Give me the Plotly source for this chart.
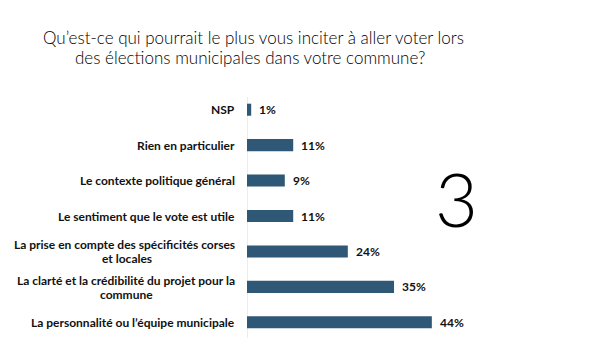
import plotly.graph_objects as go

categories = [
    "La personnalité ou l’équipe municipale",
    "La clarté et la crédibilité du projet pour la<br>commune",
    "La prise en compte des spécificités corses<br>et locales",
    "Le sentiment que le vote est utile",
    "Le contexte politique général",
    "Rien en particulier",
    "NSP",
]
values = [44, 35, 24, 11, 9, 11, 1]
value_labels = ["44%", "35%", "24%", "11%", "9%", "11%", "1%"]
title_lines = [
    "Qu’est-ce qui pourrait le plus vous inciter à aller voter lors",
    "des élections municipales dans votre commune?",
]
big_number = "3"

BAR_COLOR = "#2F5877"
FONT = "Lato, 'Open Sans', sans-serif"
LBL_FONT = dict(family=FONT, size=12, color="#111111", weight="bold")
SECOND_LINE_SHIFT = {"commune": -92, "et locales": -93}

fig = go.Figure()
fig.add_trace(go.Bar(
    x=values, y=categories, orientation="h",
    marker=dict(color=BAR_COLOR, line=dict(width=0)),
    width=0.34, hoverinfo="skip",
))

annotations = []
for cat, v, lab in zip(categories, values, value_labels):
    parts = cat.split("<br>")
    if len(parts) == 1:
        annotations.append(dict(
            x=0, y=cat, xref="x", yref="y", text=cat,
            xanchor="right", yanchor="middle", xshift=-10,
            showarrow=False, font=LBL_FONT,
        ))
    else:
        # first line right-aligned against the axis, second line centred beneath it
        annotations.append(dict(
            x=0, y=cat, xref="x", yref="y", text=parts[0],
            xanchor="right", yanchor="middle", xshift=-10, yshift=6.5,
            showarrow=False, font=LBL_FONT,
        ))
        annotations.append(dict(
            x=0, y=cat, xref="x", yref="y", text=parts[1],
            xanchor="right", yanchor="middle", xshift=SECOND_LINE_SHIFT[parts[1]],
            yshift=-7.5, showarrow=False, font=LBL_FONT,
        ))
    annotations.append(dict(
        x=v, y=cat, xref="x", yref="y", text=lab,
        xanchor="left", yanchor="middle", xshift=6,
        showarrow=False, font=LBL_FONT,
    ))

# positions in pixels of the 594x344 canvas, converted to paper coords
PL, PW, PT, PH = 247, 347, 92, 248
def px(xp):
    return (xp - PL) / PW
def py(yp):
    return (PT + PH - yp) / PH

for line, cx, cy in zip(title_lines, [253, 250], [37, 57]):
    annotations.append(dict(
        text=line, xref="paper", yref="paper", x=px(cx), y=py(cy),
        xanchor="center", yanchor="middle", showarrow=False,
        font=dict(family=FONT, size=17, color="#000000", weight=300),
    ))

annotations.append(dict(
    text=big_number, xref="paper", yref="paper", x=px(456), y=py(198),
    xanchor="center", yanchor="middle", showarrow=False,
    font=dict(family=FONT, size=74, color="#000000", weight=300),
))

fig.update_layout(
    width=594, height=344,
    margin=dict(l=PL, r=594 - PL - PW, t=PT, b=344 - PT - PH),
    paper_bgcolor="white", plot_bgcolor="white",
    showlegend=False,
    xaxis=dict(range=[0, 82.6], visible=False, fixedrange=True),
    yaxis=dict(
        showticklabels=False, ticks="", showgrid=False, zeroline=False,
        showline=False, fixedrange=True,
    ),
    shapes=[dict(
        type="line", xref="x", yref="y domain", x0=0, x1=0, y0=0.01, y1=0.98,
        line=dict(color="#D9D9D9", width=1), layer="below",
    )],
    annotations=annotations,
)

fig.write_html("out.html", config={"displayModeBar": False})
